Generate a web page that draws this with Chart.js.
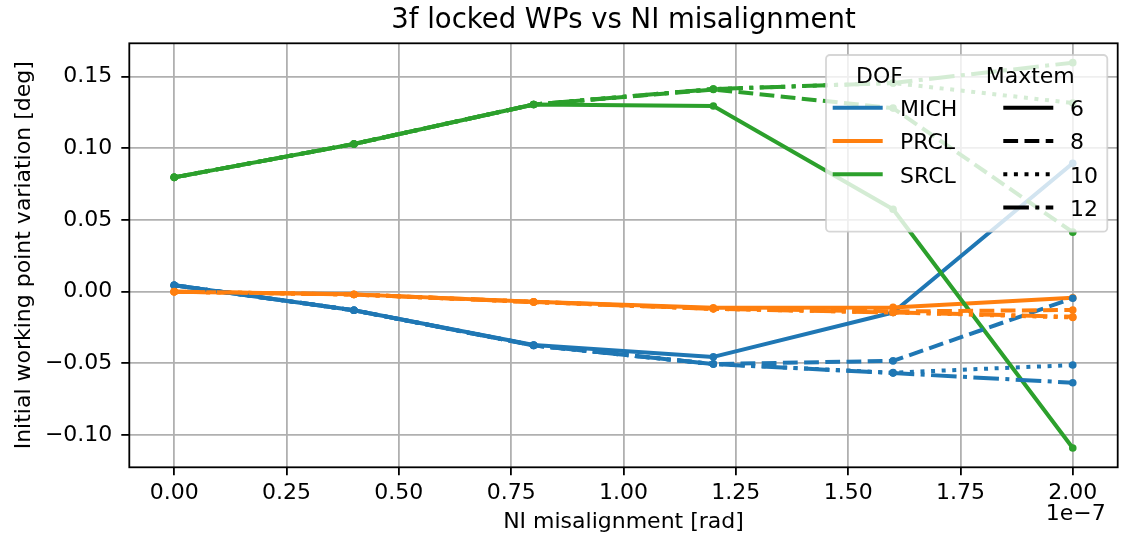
<!DOCTYPE html>
<html>
<head>
<meta charset="utf-8">
<script src="https://cdn.jsdelivr.net/npm/chart.js@4.4.1/dist/chart.umd.min.js"></script>
<style>
  html, body { margin: 0; padding: 0; background: #ffffff; }
  canvas { display: block; }
</style>
</head>
<body>
<canvas id="wpChart" width="1124" height="544"></canvas>
<script>
// NI misalignment, in units of 1e-7 rad
const niMisalignment = [0, 0.4, 0.8, 1.2, 1.6, 2.0];

// Axis ticks
const xTicks = [0, 0.25, 0.5, 0.75, 1.0, 1.25, 1.5, 1.75, 2.0];
const yTicks = [-0.10, -0.05, 0.00, 0.05, 0.10, 0.15];

const dofNames = ['MICH', 'PRCL', 'SRCL'];
const maxtemOrders = [6, 8, 10, 12];

// Initial working point variation [deg], one array per DOF and maxtem
const mich6  = [0.0045, -0.0130, -0.0372, -0.0455, -0.0145,  0.0895];
const mich8  = [0.0045, -0.0130, -0.0375, -0.0505, -0.0483, -0.0046];
const mich10 = [0.0045, -0.0130, -0.0375, -0.0505, -0.0565, -0.0512];
const mich12 = [0.0045, -0.0130, -0.0375, -0.0505, -0.0568, -0.0635];

const prcl6  = [0.0000, -0.0019, -0.0070, -0.0112, -0.0110, -0.0043];
const prcl8  = [0.0000, -0.0020, -0.0072, -0.0118, -0.0138, -0.0128];
const prcl10 = [0.0000, -0.0020, -0.0072, -0.0120, -0.0145, -0.0180];
const prcl12 = [0.0000, -0.0020, -0.0072, -0.0120, -0.0145, -0.0175];

const srcl6  = [0.0797, 0.1030, 0.1305, 0.1295, 0.0575, -0.1090];
const srcl8  = [0.0797, 0.1030, 0.1305, 0.1410, 0.1280,  0.0415];
const srcl10 = [0.0797, 0.1030, 0.1305, 0.1413, 0.1455,  0.1316];
const srcl12 = [0.0797, 0.1030, 0.1305, 0.1413, 0.1455,  0.1597];

const seriesByMaxtem = {
  6:  { MICH: mich6,  PRCL: prcl6,  SRCL: srcl6 },
  8:  { MICH: mich8,  PRCL: prcl8,  SRCL: srcl8 },
  10: { MICH: mich10, PRCL: prcl10, SRCL: srcl10 },
  12: { MICH: mich12, PRCL: prcl12, SRCL: srcl12 }
};

const dofColors = { MICH: '#1f77b4', PRCL: '#ff7f0e', SRCL: '#2ca02c' };
const LW = 4;
const maxtemDash = {
  6: [],
  8: [3.7 * LW, 1.6 * LW],
  10: [1 * LW, 1.65 * LW],
  12: [6.4 * LW, 1.6 * LW, 1 * LW, 1.6 * LW]
};

const FONT = '"DejaVu Sans", "Liberation Sans", sans-serif';
const fmt = v => (v < 0 ? '\u2212' : '') + Math.abs(v).toFixed(2);

// Datasets in plotting order: each maxtem run, then each DOF
const datasets = [];
maxtemOrders.forEach(m => {
  dofNames.forEach(dof => {
    datasets.push({
      label: dof + ' maxtem ' + m,
      data: niMisalignment.map((x, i) => ({ x: x, y: seriesByMaxtem[m][dof][i] })),
      borderColor: dofColors[dof],
      backgroundColor: dofColors[dof],
      borderWidth: LW,
      borderDash: maxtemDash[m],
      borderCapStyle: 'butt',
      borderJoinStyle: 'round',
      pointRadius: 3.8,
      pointBorderWidth: 0,
      pointBackgroundColor: dofColors[dof],
      pointHoverRadius: 3.8,
      tension: 0,
      fill: false
    });
  });
});
// later runs drawn on top
const total = datasets.length;
datasets.forEach((d, k) => { d.order = total - k; });

function drawLegend(ctx, area) {
  const w = 281.3, h = 176.7;
  const x0 = area.right - 10.4 - w;
  const y0 = area.top + 11.7;
  const r = 4;
  ctx.save();
  ctx.beginPath();
  ctx.moveTo(x0 + r, y0);
  ctx.lineTo(x0 + w - r, y0);
  ctx.arcTo(x0 + w, y0, x0 + w, y0 + r, r);
  ctx.lineTo(x0 + w, y0 + h - r);
  ctx.arcTo(x0 + w, y0 + h, x0 + w - r, y0 + h, r);
  ctx.lineTo(x0 + r, y0 + h);
  ctx.arcTo(x0, y0 + h, x0, y0 + h - r, r);
  ctx.lineTo(x0, y0 + r);
  ctx.arcTo(x0, y0, x0 + r, y0, r);
  ctx.closePath();
  ctx.fillStyle = 'rgba(255,255,255,0.8)';
  ctx.fill();
  ctx.lineWidth = 1.8;
  ctx.strokeStyle = 'rgba(204,204,204,0.8)';
  ctx.stroke();

  ctx.font = '22px ' + FONT;
  ctx.fillStyle = '#000000';
  ctx.textAlign = 'left';
  ctx.textBaseline = 'alphabetic';
  ctx.fillText('DOF', x0 + 30, y0 + 27.7);
  ctx.fillText('Maxtem', x0 + 159.7, y0 + 27.7);

  const rowStep = 33.3;
  ctx.lineWidth = LW;
  ctx.lineCap = 'butt';
  dofNames.forEach((dof, i) => {
    const ly = y0 + 52.7 + rowStep * i;
    ctx.setLineDash([]);
    ctx.strokeStyle = dofColors[dof];
    ctx.beginPath();
    ctx.moveTo(x0 + 6.7, ly);
    ctx.lineTo(x0 + 56.7, ly);
    ctx.stroke();
    ctx.fillText(dof, x0 + 74, y0 + 61 + rowStep * i);
  });
  maxtemOrders.forEach((m, i) => {
    const ly = y0 + 52.7 + rowStep * i;
    ctx.setLineDash(maxtemDash[m]);
    ctx.strokeStyle = '#000000';
    ctx.beginPath();
    ctx.moveTo(x0 + 177.3, ly);
    ctx.lineTo(x0 + 227.3, ly);
    ctx.stroke();
    ctx.fillText(String(m), x0 + 244, y0 + 61 + rowStep * i);
  });
  ctx.restore();
}

const framePlugin = {
  id: 'frameAndLegend',
  afterDatasetsDraw(chart) {
    const { ctx, chartArea: a } = chart;
    ctx.save();
    ctx.strokeStyle = '#000000';
    ctx.lineWidth = 1.8;
    ctx.setLineDash([]);
    ctx.strokeRect(a.left, a.top, a.right - a.left, a.bottom - a.top);
    ctx.restore();
    drawLegend(ctx, a);
  },
  afterDraw(chart) {
    const { ctx, chartArea: a } = chart;
    ctx.save();
    ctx.fillStyle = '#000000';
    ctx.textBaseline = 'alphabetic';
    ctx.font = '27.5px ' + FONT;
    ctx.textAlign = 'center';
    ctx.fillText('3f locked WPs vs NI misalignment', (a.left + a.right) / 2, 28.3);
    ctx.font = '22px ' + FONT;
    ctx.textAlign = 'right';
    ctx.fillText('1e\u22127', a.right - 12, 520);
    ctx.restore();
  }
};

new Chart(document.getElementById('wpChart'), {
  type: 'line',
  data: { datasets: datasets },
  options: {
    responsive: false,
    animation: false,
    devicePixelRatio: 1,
    layout: { padding: { top: 43.3, right: 6.3, left: 0, bottom: 0 } },
    plugins: {
      legend: { display: false },
      title: { display: false },
      tooltip: { enabled: false }
    },
    scales: {
      x: {
        type: 'linear',
        min: -0.1,
        max: 2.1,
        afterBuildTicks: s => { s.ticks = xTicks.map(v => ({ value: v })); },
        afterFit: s => { s.height = 76.7; },
        ticks: {
          callback: v => fmt(v),
          color: '#000000',
          font: { family: FONT, size: 22 },
          padding: 5,
          maxRotation: 0,
          autoSkip: false
        },
        grid: {
          color: '#b0b0b0',
          lineWidth: 1.8,
          tickColor: '#000000',
          tickLength: 8,
          tickWidth: 1.8
        },
        border: { display: false },
        title: {
          display: true,
          text: 'NI misalignment [rad]',
          color: '#000000',
          font: { family: FONT, size: 22 },
          padding: { top: 0, bottom: 8.4 }
        }
      },
      y: {
        type: 'linear',
        min: -0.1225,
        max: 0.1732,
        afterBuildTicks: s => { s.ticks = yTicks.map(v => ({ value: v })); },
        afterFit: s => { s.width = 129.3; },
        ticks: {
          callback: v => fmt(v),
          color: '#000000',
          font: { family: FONT, size: 22 },
          padding: 9,
          autoSkip: false
        },
        grid: {
          color: '#b0b0b0',
          lineWidth: 1.8,
          tickColor: '#000000',
          tickLength: 8,
          tickWidth: 1.8
        },
        border: { display: false },
        title: {
          display: true,
          text: 'Initial working point variation [deg]',
          color: '#000000',
          font: { family: FONT, size: 22 },
          padding: { top: 10.9, bottom: 0 }
        }
      }
    }
  },
  plugins: [framePlugin]
});
</script>
</body>
</html>
